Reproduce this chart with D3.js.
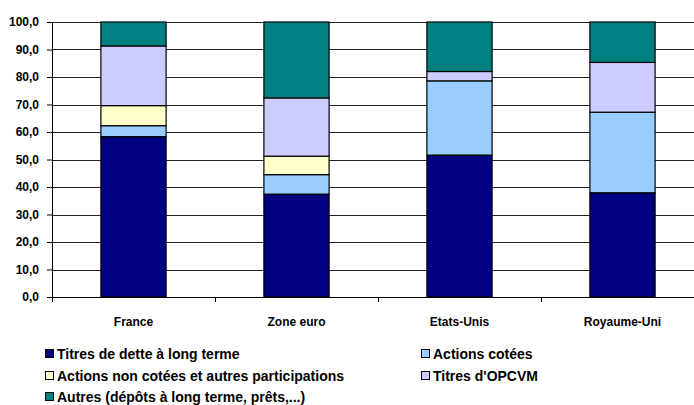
<!DOCTYPE html>
<html>
<head>
<meta charset="utf-8">
<script src="https://cdn.jsdelivr.net/npm/d3@7"></script>
<style>
  body { margin: 0; background: #fff; }
  svg { display: block; font-family: "Liberation Sans", Arial, sans-serif; }
</style>
</head>
<body>
<div id="chart"></div>
<script>
const width = 694,
      height = 405

const categories = ['France', 'Zone euro', 'Etats-Unis', 'Royaume-Uni']
const seriesNames = [
  'Titres de dette à long terme',
  'Actions cotées',
  'Actions non cotées et autres participations',
  "Titres d'OPCVM",
  'Autres (dépôts à long terme, prêts,...)'
]
const detteLT = [58.3, 37.4, 51.6, 37.9]
const actionsCotees = [4.0, 7.1, 27.0, 29.3]
const actionsNonCotees = [7.3, 6.7, 0.0, 0.0]
const titresOPCVM = [21.7, 21.2, 3.4, 18.1]
const autres = [8.7, 27.6, 18.0, 14.7]
const yTicks = [0, 10, 20, 30, 40, 50, 60, 70, 80, 90, 100]

const colors = ['#000080', '#99ccff', '#ffffcc', '#ccccff', '#008080']
const seriesValues = [detteLT, actionsCotees, actionsNonCotees, titresOPCVM, autres]

const rows = categories.map(function(c, i) {
  const r = { cat: c }
  seriesNames.forEach(function(s, j) { r[s] = seriesValues[j][i] })
  return r
})

const margin = { left: 52, top: 22 }
const plotW = 652, plotH = 275

const svg = d3.select('#chart')
  .append('svg')
  .attr('width', width)
  .attr('height', height)

const g = svg.append('g')
  .attr('transform', 'translate(' + margin.left + ',' + margin.top + ')')

const x = d3.scaleBand()
  .domain(categories)
  .range([0, plotW])
  .paddingInner(0.6)
  .paddingOuter(0.3)

const y = d3.scaleLinear()
  .domain([0, 100])
  .range([plotH, 0])

// gridlines
g.selectAll('.grid')
  .data(yTicks.slice(1))
  .enter()
  .append('line')
  .attr('class', 'grid')
  .attr('x1', 0)
  .attr('x2', plotW)
  .attr('y1', function(d) { return Math.round(y(d)) + 0.5 })
  .attr('y2', function(d) { return Math.round(y(d)) + 0.5 })
  .attr('stroke', '#222')
  .attr('stroke-width', 1)

const stacked = d3.stack().keys(seriesNames)(rows)

g.selectAll('.layer')
  .data(stacked)
  .enter()
  .append('g')
  .attr('class', 'layer')
  .attr('fill', function(d, i) { return colors[i] })
  .selectAll('rect')
  .data(function(d) { return d.filter(function(p) { return p[1] - p[0] > 0 }) })
  .enter()
  .append('rect')
  .attr('x', function(d) { return x(d.data.cat) })
  .attr('width', x.bandwidth())
  .attr('y', function(d) { return y(d[1]) })
  .attr('height', function(d) { return y(d[0]) - y(d[1]) })
  .attr('stroke', '#000')
  .attr('stroke-width', 1.2)

// y axis
const yAxis = g.append('g')
  .call(d3.axisLeft(y)
    .tickValues(yTicks)
    .tickSize(5)
    .tickFormat(function(d) { return d3.format('.1f')(d).replace('.', ',') }))
yAxis.select('.domain').attr('stroke', '#000')
yAxis.selectAll('text')
  .attr('font-size', 12)
  .attr('font-weight', 'bold')
  .attr('font-family', '"Liberation Sans", Arial, sans-serif')
  .attr('fill', '#000')
  .attr('dx', -5)

// x axis with ticks between categories
const step = x.step()
g.append('line')
  .attr('x1', 0).attr('x2', plotW)
  .attr('y1', plotH + 0.5).attr('y2', plotH + 0.5)
  .attr('stroke', '#000')
g.selectAll('.xtick')
  .data(categories)
  .enter()
  .append('line')
  .attr('x1', function(d, i) { return Math.round(i * step) + 0.5 })
  .attr('x2', function(d, i) { return Math.round(i * step) + 0.5 })
  .attr('y1', plotH)
  .attr('y2', plotH + 5)
  .attr('stroke', '#000')

g.selectAll('.xlabel')
  .data(categories)
  .enter()
  .append('text')
  .attr('x', function(d) { return x(d) + x.bandwidth() / 2 })
  .attr('y', plotH + 29)
  .attr('text-anchor', 'middle')
  .attr('font-size', 12)
  .attr('font-weight', 'bold')
  .text(function(d) { return d })

// legend
const legendPos = [[45, 354], [421, 354], [45, 376], [421, 376], [45, 397]]
const legend = svg.selectAll('.legend')
  .data(seriesNames)
  .enter()
  .append('g')
  .attr('class', 'legend')
  .attr('transform', function(d, i) { return 'translate(' + legendPos[i][0] + ',' + legendPos[i][1] + ')' })

legend.append('rect')
  .attr('x', 0.5)
  .attr('y', -4.5)
  .attr('width', 8)
  .attr('height', 8)
  .attr('fill', function(d, i) { return colors[i] })
  .attr('stroke', '#000')

legend.append('text')
  .attr('x', 12)
  .attr('y', 5)
  .attr('font-size', 14)
  .attr('font-weight', 'bold')
  .text(function(d) { return d })
</script>
</body>
</html>
